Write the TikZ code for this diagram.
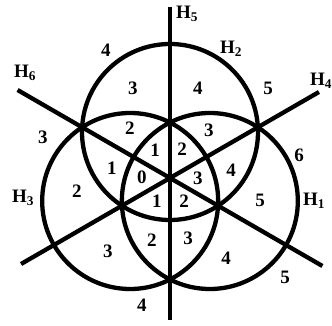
\documentclass[tikz,border=0pt]{standalone}
\usepackage{fontspec}
\setmainfont{Liberation Serif}
\usetikzlibrary{calc}
\tikzset{
  hline/.style={line width=4.3pt},
  circ/.style={line width=4.3pt},
  num/.style={font=\fontsize{19}{19}\selectfont\bfseries, inner sep=0pt},
  hlab/.style={font=\fontsize{19}{19}\selectfont\bfseries, inner sep=0pt}
}
\begin{document}
\begin{tikzpicture}[x=1pt,y=1pt]
\useasboundingbox (-170,-148) rectangle (162,178);
\coordinate (O) at (0,0);
\coordinate (c2) at (90:46);
\coordinate (c3) at (210:46);
\coordinate (c1) at (330:46);
\coordinate (h5a) at (0,171);
\coordinate (h5b) at (0,-142);
\coordinate (h6a) at (150:176);
\coordinate (h6b) at (330:176);
\coordinate (h4a) at (30:172);
\coordinate (h4b) at (210:172);
% circles
\draw[circ] (c2) circle[radius=88pt];
\draw[circ] (c3) circle[radius=88pt];
\draw[circ] (c1) circle[radius=88pt];
% lines
\draw[hline] (h5a) -- (h5b);
\draw[hline] (h6a) -- (h6b);
\draw[hline] (h4a) -- (h4b);
% line and circle names
\node[hlab] (H5) at (17,164) {H\textsubscript{5}};
\node[hlab] (H2) at (61,129) {H\textsubscript{2}};
\node[hlab, anchor=west] (H4) at (140,97) {H\textsubscript{4}};
\node[hlab] (H6) at (-145,105) {H\textsubscript{6}};
\node[hlab] (H3) at (-147,-20) {H\textsubscript{3}};
\node[hlab] (H1) at (144,-23) {H\textsubscript{1}};
% region numbers
\node[num] (r1) at (-64,128) {4};
\node[num] (r2) at (-37,90) {3};
\node[num] (r3) at (28,90) {4};
\node[num] (r4) at (98,90) {5};
\node[num] (r5) at (-40,50) {2};
\node[num] (r6) at (39,48) {3};
\node[num] (r7) at (-127,41) {3};
\node[num] (r8) at (-15,28) {1};
\node[num] (r9) at (12,29) {2};
\node[num] (r10) at (129,23) {6};
\node[num] (r11) at (-58,10) {1};
\node[num] (r12) at (-28,1) {0};
\node[num] (r13) at (28,0) {3};
\node[num] (r14) at (61,8) {4};
\node[num] (r15) at (-93,-13) {2};
\node[num] (r16) at (-13,-23) {1};
\node[num] (r17) at (14,-23) {2};
\node[num] (r18) at (90,-22) {5};
\node[num] (r19) at (-18,-62) {2};
\node[num] (r20) at (-62,-73) {3};
\node[num] (r21) at (18,-60) {3};
\node[num] (r22) at (56,-80) {4};
\node[num] (r23) at (-28,-127) {4};
\node[num] (r24) at (115,-99) {5};
\end{tikzpicture}
\end{document}
